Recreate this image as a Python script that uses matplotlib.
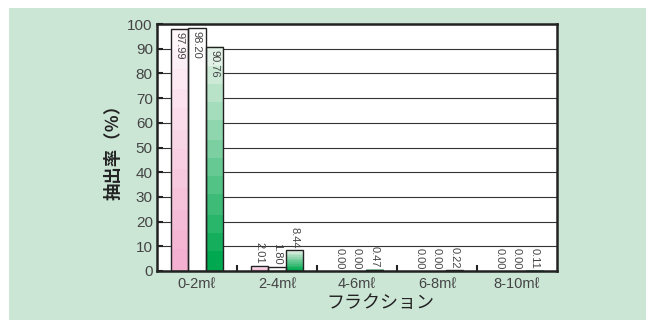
import numpy as np
import matplotlib.pyplot as plt
from matplotlib.patches import Rectangle
from matplotlib.colors import LinearSegmentedColormap

plt.rcParams['font.family'] = ['Liberation Sans', 'Noto Sans CJK JP', 'DejaVu Sans']

# data
categories = ['0-2mℓ', '2-4mℓ', '4-6mℓ', '6-8mℓ', '8-10mℓ']
series_a = [97.99, 2.01, 0.00, 0.00, 0.00]   # pink
series_b = [98.20, 1.80, 0.00, 0.00, 0.00]   # white
series_c = [90.76, 8.44, 0.47, 0.22, 0.11]   # green
yticks = list(range(0, 101, 10))

# gradients (top -> bottom)
pink = LinearSegmentedColormap.from_list('pink', ['#fff6fa', '#f3b0d0'], N=12)
green = LinearSegmentedColormap.from_list('green', ['#e2f1e5', '#00a84f'], N=12)
white = LinearSegmentedColormap.from_list('white', ['#ffffff', '#ffffff'])

fig = plt.figure(figsize=(6.46, 3.2), dpi=100)
fig.patch.set_facecolor('white')
fig.add_artist(Rectangle((9 / 646, 0), 1 - 9 / 646, 1 - 8 / 320,
                         transform=fig.transFigure, facecolor='#cce6d6',
                         edgecolor='none', zorder=-5))

ax = fig.add_axes([157 / 646, 49 / 320, 400 / 646, 247 / 320])
ax.set_facecolor('white')

n = len(categories)
x = np.arange(n)
w = 0.215
grad = np.linspace(0, 1, 100).reshape(-1, 1)

for offs, vals, cmap in [(-w, series_a, pink), (0, series_b, white), (w, series_c, green)]:
    for xi, v in zip(x, vals):
        x0 = xi + offs - w / 2
        if v > 0:
            ax.imshow(grad, cmap=cmap, extent=(x0, x0 + w, 0, v), aspect='auto',
                      origin='upper', zorder=2, interpolation='nearest')
            ax.add_patch(Rectangle((x0, 0), w, v, fill=False, edgecolor='#222222',
                                   linewidth=1.0, zorder=3))
        lab = f'{v:.2f}'
        if v > 50:
            ax.text(xi + offs, v - 1.2, lab, rotation=270, ha='center', va='top',
                    fontsize=8, color='#444444', zorder=4)
        else:
            ax.text(xi + offs, v + 0.8, lab, rotation=270, ha='center', va='bottom',
                    fontsize=8, color='#444444', zorder=4)

ax.set_xlim(-0.5, n - 0.5)
ax.set_ylim(0, 100)
ax.set_yticks(yticks)
ax.yaxis.grid(True, color='#333333', linewidth=0.8, zorder=1)
ax.set_axisbelow(True)
ax.tick_params(axis='y', direction='in', length=4, width=1.5, color='#222222',
               labelsize=11, labelcolor='#444444', pad=3)

ax.set_xticks(np.arange(n - 1) + 0.5)
ax.set_xticklabels([])
ax.tick_params(axis='x', which='major', direction='in', length=4, width=1.5, color='#222222')
ax.set_xticks(x, minor=True)
ax.set_xticklabels(categories, minor=True)
ax.tick_params(axis='x', which='minor', length=0, labelsize=10.5, labelcolor='#444444', pad=4)

for s in ax.spines.values():
    s.set_linewidth(1.8)
    s.set_color('#222222')
    s.set_zorder(5)

ax.set_ylabel('抽出率（％）', fontsize=12.5, fontweight='bold', color='#222222',
              family=['Noto Sans CJK JP', 'DejaVu Sans'])
ax.yaxis.set_label_coords(-0.085, 0.5)
ax.set_xlabel('フラクション', fontsize=13, color='#222222',
              family=['Noto Sans CJK JP', 'DejaVu Sans'])
ax.xaxis.set_label_coords(0.5575, -0.095)

plt.savefig('out.png', dpi=100)
